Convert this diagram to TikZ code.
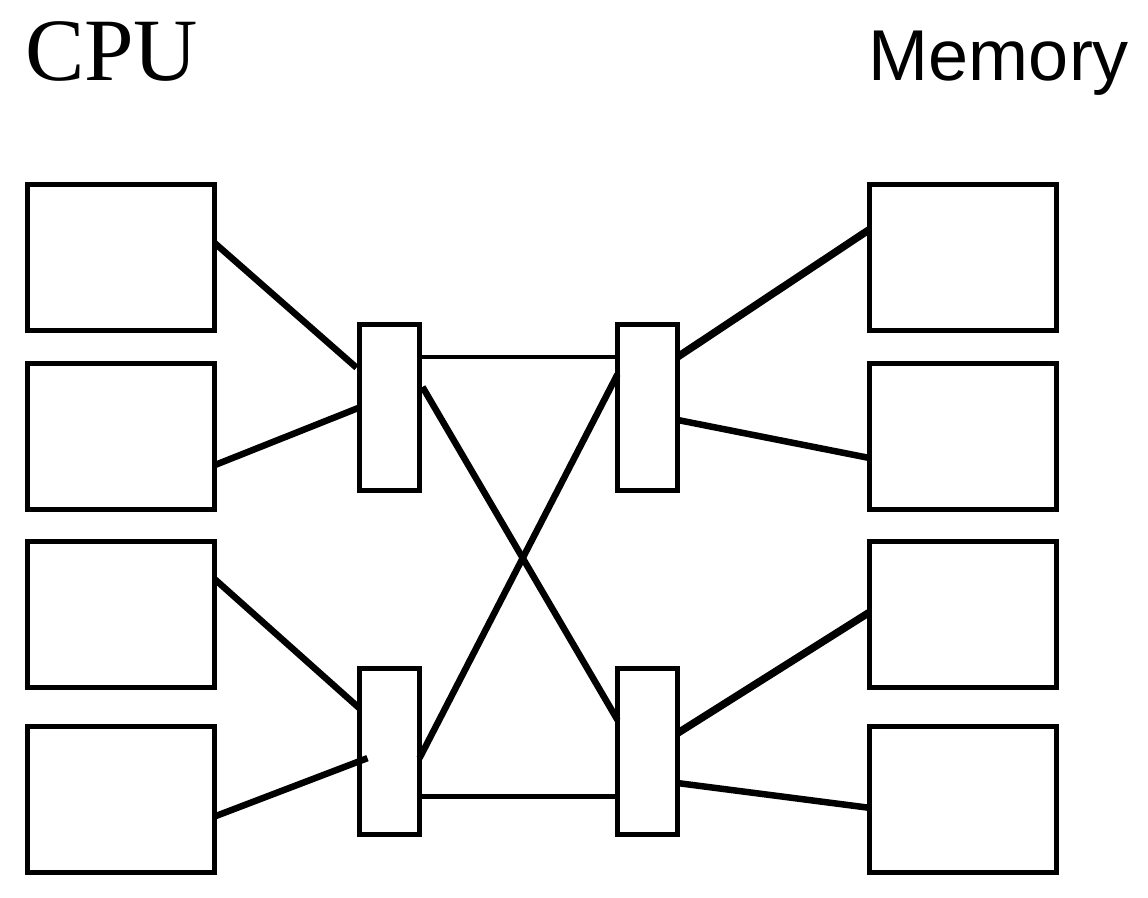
\documentclass[tikz,border=0pt]{standalone}
\usepackage{fontspec}
\setmainfont{Liberation Serif}
\newfontfamily\sansf{Liberation Sans}
\usetikzlibrary{calc}
\begin{document}
\begin{tikzpicture}[x=1bp,y=-1bp,
  unit/.style={draw,line width=5bp,inner sep=0pt,outer sep=0pt,minimum width=187bp,minimum height=146bp},
  sw/.style={draw,line width=5bp,inner sep=0pt,outer sep=0pt,minimum width=60bp,minimum height=166bp},
  link/.style={line width=6.5bp},
  hlink/.style={line width=4.5bp},
  mlink/.style={line width=7.5bp},
  title/.style={inner sep=0pt,outer sep=0pt}]
\useasboundingbox (0,0) rectangle (1148,898);
% titles
\node[title,anchor=base west] (tcpu) at (25,80) {\fontsize{89bp}{89bp}\selectfont CPU};
\node[title,anchor=base east] (tmem) at (1129,80) {\fontsize{72bp}{72bp}\selectfont\sansf Memory};
% CPU boxes
\node[unit] (c1) at (121,257.5) {};
\node[unit] (c2) at (121,436) {};
\node[unit] (c3) at (121,614) {};
\node[unit] (c4) at (121,799) {};
% memory boxes
\node[unit] (m1) at (962.5,257.5) {};
\node[unit] (m2) at (962.5,436) {};
\node[unit] (m3) at (962.5,614) {};
\node[unit] (m4) at (962.5,799) {};
% switches
\node[sw] (s1) at (389.5,407.5) {};
\node[sw] (s2) at (647.5,407.5) {};
\node[sw] (s3) at (389.5,751.5) {};
\node[sw] (s4) at (647.5,751.5) {};
% CPU -> switches
\draw[link] ($(c1.north east)!0.40!(c1.south east)$) -- ($(s1.north west)!0.26!(s1.south west)+(-3,0)$);
\draw[link] ($(c2.north east)!0.70!(c2.south east)$) -- ($(s1.north west)!0.50!(s1.south west)$);
\draw[link] ($(c3.north east)!0.26!(c3.south east)$) -- ($(s3.north west)!0.24!(s3.south west)$);
\draw[link] ($(c4.north east)!0.62!(c4.south east)$) -- ($(s3.north west)!0.54!(s3.south west)+(8,0)$);
% switch to switch
\draw[hlink] ($(s1.north east)!0.196!(s1.south east)$) -- ($(s2.north west)!0.196!(s2.south west)$);
\draw[hlink] ($(s3.north east)!0.77!(s3.south east)$) -- ($(s4.north west)!0.77!(s4.south west)$);
\draw[link] ($(s1.north east)!0.376!(s1.south east)+(3,0)$) -- ($(s4.north west)!0.31!(s4.south west)$);
\draw[link] ($(s3.north east)!0.54!(s3.south east)$) -- ($(s2.north west)!0.30!(s2.south west)$);
% switches -> memory
\draw[mlink] ($(s2.north east)!0.196!(s2.south east)$) -- ($(m1.north west)!0.31!(m1.south west)$);
\draw[link] ($(s2.north east)!0.575!(s2.south east)$) -- ($(m2.north west)!0.65!(m2.south west)$);
\draw[mlink] ($(s4.north east)!0.39!(s4.south east)$) -- ($(m3.north west)!0.49!(m3.south west)$);
\draw[link] ($(s4.north east)!0.69!(s4.south east)$) -- ($(m4.north west)!0.56!(m4.south west)$);
\end{tikzpicture}
\end{document}
